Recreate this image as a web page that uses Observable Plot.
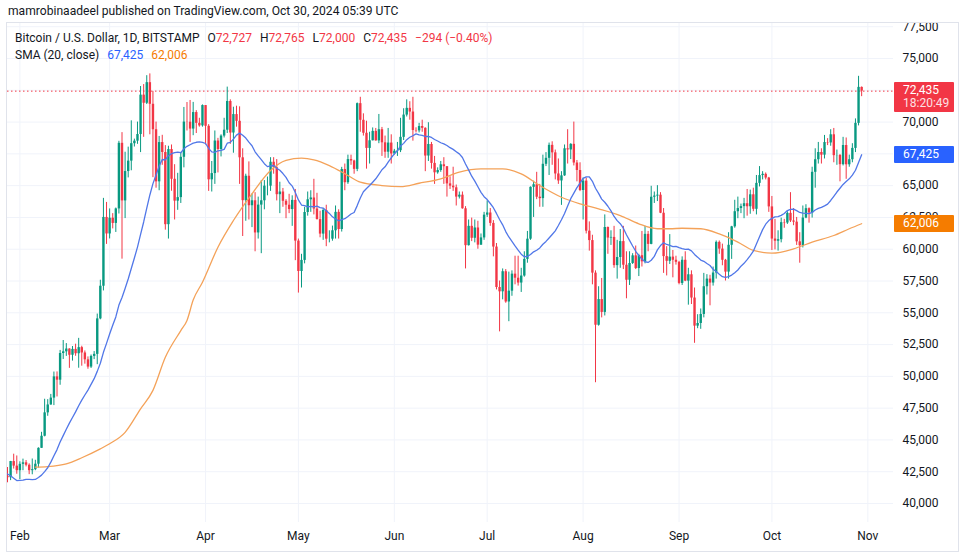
<!DOCTYPE html>
<html><head><meta charset="utf-8">
<script src="https://cdn.jsdelivr.net/npm/d3@7"></script>
<script src="https://cdn.jsdelivr.net/npm/@observablehq/plot@0.6"></script>
<style>
body{margin:0;background:#fff;font-family:Roboto,"Liberation Sans",Arial,sans-serif;color:#131722;}
#wrap{position:relative;width:960px;height:554px;overflow:hidden;background:#fff;}
#chart{position:absolute;left:0;top:23px;}
.leg{position:absolute;left:15px;font-size:12px;white-space:nowrap;line-height:14px;display:flex;gap:8px;}
.box{position:absolute;left:894px;width:60px;color:#fff;font-size:12px;box-sizing:border-box;padding-left:9px;line-height:13px;border-radius:1px;}
</style></head>
<body><div id="wrap"></div>
<script>
// ---- data (Bitcoin / U.S. Dollar, 1D, BITSTAMP) ----
const firstDay = "2024-01-28";           // first visible daily candle
const warmupFirstDay = "2024-01-09";     // closes used only to seed SMA(20)
const warmupClose = [46100,46650,46340,42780,42840,41800,42510,43140,42740,41260,41620,41660,41560,39520,39850,40080,39930,41800,42120];

const open = [
 42120,42030,43300,42940,
 42580,43080,43200,43010,42580,42660,43090,44340,45290,47130,47750,48290,49960,49700,51800,51930,52150,51660,52120,51780,52260,51840,51300,50730,51570,51730,54520,57090,62500,
 61200,62440,62030,63170,68330,63800,66110,66930,68300,68500,69020,72120,71480,73100,71400,69400,65300,68390,67610,61930,67840,65500,63780,64060,67230,70000,69990,69450,70750,69900,69700,
 71300,69670,65460,65950,68510,67840,68900,69360,71620,69140,70590,70060,67190,63820,65740,63420,63810,61280,63470,63810,64960,64960,66840,66410,64290,64500,63770,63460,63120,63840,
 60640,58250,59120,62890,63890,64030,63160,62330,61190,63050,60790,60790,61450,62900,61550,66270,65230,67050,66940,66280,71450,70140,69120,67930,68530,69270,68520,69400,68370,67630,68350,
 67490,67710,67750,68800,70550,71080,70790,69340,69310,69650,69510,67330,68240,66750,66010,66190,66640,66490,65140,64960,64830,64100,64250,63180,60280,61800,60860,61670,60320,60890,
 62680,62850,62030,60170,56990,56650,58230,55850,56700,58040,57720,57340,57890,59200,60790,64870,65070,64090,63980,66680,67150,68170,67580,65920,65370,65770,67900,67810,68250,66780,66190,
 64620,65360,61420,60680,58120,54020,56040,55030,61710,60880,60930,58710,59350,60600,58740,57560,58880,59480,58480,59490,59010,61170,60380,64090,64180,64250,62830,59420,59050,59380,59130,
 58970,57310,59130,57490,57990,56160,53950,54160,54870,57050,57650,57340,58130,60540,60010,59130,58200,60310,61760,62950,63200,63350,63580,63340,64280,63140,65180,65790,65890,65600,
 63330,60800,60630,60750,62090,62060,62820,62220,62130,60580,60270,62450,63190,62850,66050,67040,67610,67400,68390,68360,69000,67360,67370,66650,68160,66640,67040,67930,69900,72727];

const high = [
 42830,43310,43880,43740,
 43280,43490,43380,43120,43500,43400,44380,45600,48200,48170,48580,50340,50350,52040,52820,52580,52170,52350,52530,52990,52370,52000,51530,51680,51950,54900,57560,64000,63680,
 63170,62800,63240,68490,69170,67630,68030,70100,68660,70000,72800,72950,73650,73790,72400,70000,68870,68960,68150,68100,68200,66650,65970,67600,71150,71540,71700,71550,70900,70300,71350,
 71300,69800,66900,69300,68720,69000,70300,72750,71750,71170,71250,71200,67900,65900,66870,64350,64450,64100,65400,65400,65680,67200,67200,67050,65270,64780,63900,64320,64200,64700,
 60800,59600,63300,64500,64600,65500,64400,62990,63200,63460,61450,61820,63400,63100,66440,66700,67400,67400,67000,71500,71950,70650,70070,69200,69540,69500,70600,69580,68900,69500,69000,
 67850,68400,70300,71050,71750,71600,71950,69550,69900,70150,69550,69950,68400,67300,66400,66900,67200,66500,65700,66450,65050,64500,64500,63350,62300,62450,62300,62200,61200,62900,
 63800,63200,62250,60450,57500,58450,58400,58200,58300,59450,59450,58500,59800,61400,64900,65350,66050,65100,67400,67600,68350,68450,67800,67100,66100,68200,69400,68300,70000,66980,66800,
 65600,65600,62150,61100,58300,57050,57700,62700,61750,61450,61800,60700,61550,61800,59800,59800,59650,60250,59600,61400,61800,61400,64950,64500,65000,64450,63200,60200,61150,59900,59450,
 59050,59400,59800,58500,58300,56950,54850,55300,58100,58000,57950,58600,60650,60650,60400,59200,61300,61800,63850,64100,63550,64000,64700,64650,64800,65800,66500,66100,66000,65650,
 64150,62350,61450,62450,62350,62950,64450,63200,62500,61300,63400,63500,63250,66450,67900,68400,67900,68950,68700,69400,69500,67800,67450,68800,68750,67400,68300,70250,73600,72765];

const low = [
 41630,41800,42710,42300,
 41880,42580,42880,42270,42260,42580,42790,44340,45240,46860,47730,47700,48380,49300,51330,51570,50630,51200,51580,50640,50800,50960,50560,50620,51320,50920,54450,56720,60380,
 60810,61600,61320,62770,59220,62410,65610,66170,68040,68250,67600,68800,71380,69000,65630,64800,64600,66600,61500,60800,64560,62300,63060,63600,66400,69300,68400,68930,69100,69600,69600,
 68200,64550,64500,65100,66000,67260,68750,69100,68250,67550,69600,65100,61000,62200,62300,61700,59800,60800,59650,63100,64200,64550,65900,63800,62800,63300,62400,62800,61800,59100,
 56550,56950,58850,62600,62900,62700,62300,60900,60700,60200,60500,60630,60800,60800,61350,64600,65100,66600,65900,66100,69200,68900,66300,66700,68520,68500,68300,67300,67150,67150,66700,
 67400,67300,67600,68550,70400,70150,68500,69150,69150,69200,66100,66900,66300,65100,65900,66050,65100,64100,64700,64550,63400,63950,63150,58450,60250,60600,60500,60000,60300,60700,
 62500,61800,59400,56800,53500,56020,55750,54300,56300,57200,57100,56600,57800,58900,60700,62500,63900,63300,63300,66500,65800,66600,65450,65100,63450,65730,66700,67050,66550,65300,64530,
 62300,61200,59850,57200,49500,53950,54600,54750,59600,60300,58500,57650,58500,58400,56100,57150,58800,58400,57850,58600,58850,59800,60350,63600,63750,62800,58100,57900,58800,57750,58750,
 57200,57150,57450,55600,55650,52600,53750,53700,54600,56400,55550,57100,57650,59600,58700,57500,57650,59200,61650,62400,62800,62400,62600,62750,62950,62700,64900,65450,65450,62900,
 59900,59950,59850,60500,61650,61950,62100,61850,60300,58900,60100,62400,62050,62450,64800,66700,66700,67100,68150,68100,66800,66600,65300,66550,65500,66450,66800,67600,69700,72000];

const close = [
 42030,43300,42940,42580,
 43080,43200,43010,42580,42660,43090,44340,45290,47130,47750,48290,49960,49700,51800,51930,52150,51660,52120,51780,52260,51840,51300,50730,51570,51730,54520,57090,62500,61200,
 62440,62030,63170,68330,63800,66110,66930,68300,68500,69020,72120,71480,73100,71400,69400,65300,68390,67610,61930,67840,65500,63780,64060,67230,70000,69990,69450,70750,69900,69700,71300,
 69670,65460,65950,68510,67840,68900,69360,71620,69140,70590,70060,67190,63820,65740,63420,63810,61280,63470,63810,64960,64960,66840,66410,64290,64500,63770,63460,63120,63840,60640,
 58250,59120,62890,63890,64030,63160,62330,61190,63050,60790,60790,61450,62900,61550,66270,65230,67050,66940,66280,71450,70140,69120,67930,68530,69270,68520,69400,68370,67630,68350,67490,
 67710,67750,68800,70550,71080,70790,69340,69310,69650,69510,67330,68240,66750,66010,66190,66640,66490,65140,64960,64830,64100,64250,63180,60280,61800,60860,61670,60320,60890,62680,
 62850,62030,60170,56990,56650,58230,55850,56700,58040,57720,57340,57890,59200,60790,64870,65070,64090,63980,66680,67150,68170,67580,65920,65370,65770,67900,67810,68250,66780,66190,64620,
 65360,61420,60680,58120,54020,56040,55030,61710,60880,60930,58710,59350,60600,58740,57560,58880,59480,58480,59490,59010,61170,60380,64090,64180,64250,62830,59420,59050,59380,59130,58970,
 57310,59130,57490,57990,56160,53950,54160,54870,57050,57650,57340,58130,60540,60010,59130,58200,60310,61760,62950,63200,63350,63580,63340,64280,63140,65180,65790,65890,65600,63330,
 60800,60630,60750,62090,62060,62820,62220,62130,60580,60270,62450,63190,62850,66050,67040,67610,67400,68390,68360,69000,67360,67370,66650,68160,66640,67040,67930,69900,72730,72435];

// second (higher-timeframe) SMA
const smaSlowDates = ["2024-02-06","2024-02-10","2024-02-16","2024-02-21","2024-02-27","2024-03-01","2024-03-06","2024-03-11","2024-03-15","2024-03-19","2024-03-24","2024-03-26","2024-03-28","2024-03-31","2024-04-05","2024-04-10","2024-04-16","2024-04-22","2024-04-27","2024-05-02","2024-05-06","2024-05-11","2024-05-17","2024-05-21","2024-05-28","2024-06-03","2024-06-09","2024-06-16","2024-06-22","2024-06-29","2024-07-06","2024-07-12","2024-07-18","2024-07-25","2024-07-31","2024-08-06","2024-08-13","2024-08-19","2024-08-25","2024-08-29","2024-09-02","2024-09-08","2024-09-14","2024-09-20","2024-09-25","2024-10-01","2024-10-08","2024-10-14","2024-10-21","2024-10-26","2024-10-30"];
const smaSlowValues = [42860,42900,43120,43600,44300,44700,45600,47450,48900,51500,53600,54400,56000,57400,60160,62260,64360,66190,66980,67160,67030,66580,65800,65270,65010,64930,65190,65540,66060,66320,66320,65930,65010,64090,63570,63180,62650,62000,61610,61610,61650,61610,61210,60560,59900,59690,60030,60560,61080,61610,62006];

const yTicks = [40000,42500,45000,47500,50000,52500,55000,57500,60000,62500,65000,67500,70000,72500,75000,77500];
const monthTicks = ["2024-02-01","2024-03-01","2024-04-01","2024-05-01","2024-06-01","2024-07-01","2024-08-01","2024-09-01","2024-10-01","2024-11-01"];
const lastPrice = 72435, sma20Last = 67425, smaSlowLast = 62006;
const legendOHLC = {O:"72,727", H:"72,765", L:"72,000", C:"72,435", chg:"−294 (−0.40%)"};

// ---- build ----
const DAY = 864e5;
const t0 = Date.parse(firstDay + "T00:00Z");
const w0 = Date.parse(warmupFirstDay + "T00:00Z");
const rows = close.map((c, i) => ({date: new Date(t0 + i*DAY), open: open[i], high: high[i], low: low[i], close: c}));
const smaRows = warmupClose.map((c, i) => ({date: new Date(w0 + i*DAY), close: c})).concat(rows.map(r => ({date: r.date, close: r.close})));
const up = rows.filter(r => r.close >= r.open), down = rows.filter(r => r.close < r.open);
const slowRows = smaSlowDates.map((d, i) => ({date: new Date(d + "T00:00Z"), v: smaSlowValues[i]}));
const GREEN = "#089981", RED = "#F23645", BLUE = "#2962FF", ORANGE = "#F57C00";
const monthDates = monthTicks.map(d => new Date(d + "T00:00Z"));

const chart = Plot.plot({
  width: 960, height: 531,
  marginLeft: 7, marginRight: 67, marginTop: 0, marginBottom: 32,
  style: {fontFamily: "Roboto, sans-serif", fontSize: "12px", color: "#131722", background: "transparent", overflow: "visible"},
  x: {type: "utc", domain: [new Date("2024-01-28T00:00Z"), new Date("2024-11-09T07:00Z")]},
  y: {domain: [38506, 77754]},
  marks: [
    Plot.gridY(yTicks, {stroke: "#f0f3fa", strokeOpacity: 1}),
    Plot.gridX(monthDates, {stroke: "#f0f3fa", strokeOpacity: 1}),
    Plot.axisY(yTicks, {anchor: "right", tickSize: 0, tickPadding: 9, tickFormat: d3.format(","), label: null}),
    Plot.axisX(monthDates, {anchor: "bottom", tickSize: 0, tickPadding: 9, tickFormat: d3.utcFormat("%b"), label: null}),
    Plot.ruleY([lastPrice], {stroke: RED, strokeDasharray: "1.5,2.5", strokeWidth: 1}),
    Plot.ruleX(up, {x: "date", y1: "low", y2: "high", stroke: GREEN, strokeWidth: 1, clip: true}),
    Plot.ruleX(up, {x: "date", y1: "open", y2: "close", stroke: GREEN, strokeWidth: 2.4, clip: true}),
    Plot.ruleX(down, {x: "date", y1: "low", y2: "high", stroke: RED, strokeWidth: 1, clip: true}),
    Plot.ruleX(down, {x: "date", y1: "open", y2: "close", stroke: RED, strokeWidth: 2.4, clip: true}),
    Plot.line(slowRows, {x: "date", y: "v", stroke: "#f4a259", strokeWidth: 1.3, curve: "monotone-x", clip: true}),
    Plot.lineY(smaRows, Plot.windowY({k: 20, anchor: "end", strict: true}, {x: "date", y: "close", stroke: "#5177e8", strokeWidth: 1.3, clip: true}))
  ]
});
chart.id = "chart";
const wrap = document.getElementById("wrap");
wrap.appendChild(chart);
const ys = v => chart.scale("y").apply(v) + 23;

function add(html, cls, style) {
  const d = document.createElement("div");
  if (cls) d.className = cls;
  d.setAttribute("style", style || "");
  d.innerHTML = html;
  wrap.appendChild(d);
  return d;
}
add("mamrobinaadeel published on TradingView.com, Oct 30, 2024 05:39 UTC", null, "position:absolute;left:8px;top:4px;font-size:12.1px;white-space:nowrap;");
add("", null, "position:absolute;left:6px;top:22px;width:953px;height:530px;border:1px solid #e0e3eb;box-sizing:border-box;");
// legend rows
const red = s => `<span style="color:${RED}">${s}</span>`;
add(`<span>Bitcoin / U.S. Dollar, 1D, BITSTAMP</span><span>O${red(legendOHLC.O)}</span><span>H${red(legendOHLC.H)}</span><span>L${red(legendOHLC.L)}</span><span>C${red(legendOHLC.C)}</span>${red(legendOHLC.chg)}`, "leg", "top:31px;");
add(`<span>SMA (20, close)</span><span style="color:${BLUE}">${d3.format(",")(sma20Last)}</span><span style="color:${ORANGE}">${d3.format(",")(smaSlowLast)}</span>`, "leg", "top:48px;");
// price scale labels
const yp = ys(lastPrice);
add(`${d3.format(",")(lastPrice)}<br><span style="opacity:0.85">18:20:49</span>`, "box", `background:${RED};top:${yp - 9}px;height:30px;padding-top:2px;`);
add(d3.format(",")(sma20Last), "box", `background:${BLUE};top:${ys(sma20Last) - 8.5}px;height:17px;padding-top:2px;`);
add(d3.format(",")(smaSlowLast), "box", `background:${ORANGE};top:${ys(smaSlowLast) - 8.5}px;height:17px;padding-top:2px;`);
</script>
</body></html>
